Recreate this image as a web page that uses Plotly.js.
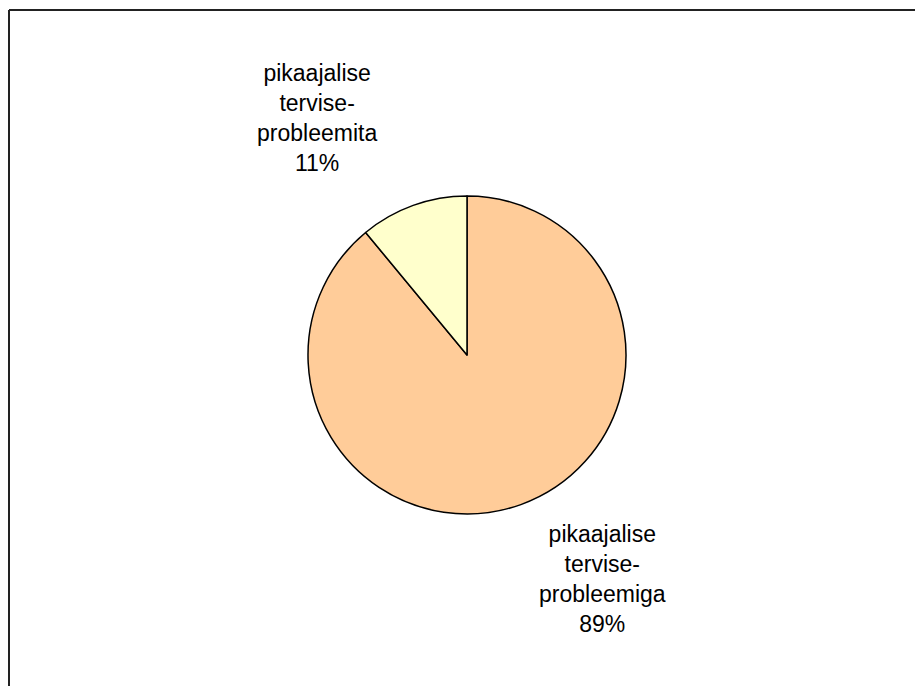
<!DOCTYPE html>
<html>
<head>
<meta charset="utf-8">
<script src="https://cdn.plot.ly/plotly-3.0.1.min.js"></script>
<style>html,body{margin:0;padding:0;background:#fff;}#chart{width:915px;height:686px;}</style>
</head>
<body>
<div id="chart"></div>
<script>
var categories = ["pikaajalise tervise-probleemiga", "pikaajalise tervise-probleemita"];
var labelLines = [["pikaajalise", "tervise-", "probleemiga"], ["pikaajalise", "tervise-", "probleemita"]];
var values = [89, 11];
var colors = ["#FFCC99", "#FFFFCC"];

var W = 915, H = 686;
var cx = 467, cy = 355, r = 159;
var labelPos = [[602, 579], [317, 118]];

var trace = {
  type: "pie",
  labels: categories,
  values: values,
  sort: false,
  direction: "clockwise",
  rotation: 0,
  textinfo: "none",
  hoverinfo: "label+percent",
  marker: {colors: colors, line: {color: "#000000", width: 1.5}},
  domain: {x: [(cx - r) / W, (cx + r) / W], y: [(H - cy - r) / H, (H - cy + r) / H]},
  showlegend: false
};

var total = values.reduce(function(a, b) { return a + b; }, 0);
var annotations = categories.map(function(c, i) {
  var pct = Math.round(values[i] / total * 100) + "%";
  return {
    xref: "paper", yref: "paper",
    x: labelPos[i][0] / W, y: 1 - labelPos[i][1] / H,
    xanchor: "center", yanchor: "middle",
    showarrow: false, align: "center",
    text: labelLines[i].join("<br>") + "<br>" + pct,
    font: {family: "Liberation Sans, Arial, sans-serif", size: 23, color: "#000000"}
  };
});

var layout = {
  width: W, height: H,
  margin: {l: 0, r: 0, t: 0, b: 0},
  paper_bgcolor: "#ffffff",
  plot_bgcolor: "#ffffff",
  annotations: annotations,
  shapes: [
    {type: "line", xref: "paper", yref: "paper", x0: 9 / W, x1: 9 / W, y0: 0, y1: 1 - 10 / H, line: {color: "#222222", width: 2}},
    {type: "line", xref: "paper", yref: "paper", x0: 9 / W, x1: 1, y0: 1 - 10 / H, y1: 1 - 10 / H, line: {color: "#222222", width: 2}}
  ]
};

Plotly.newPlot("chart", [trace], layout, {displayModeBar: false, staticPlot: true});
</script>
</body>
</html>
